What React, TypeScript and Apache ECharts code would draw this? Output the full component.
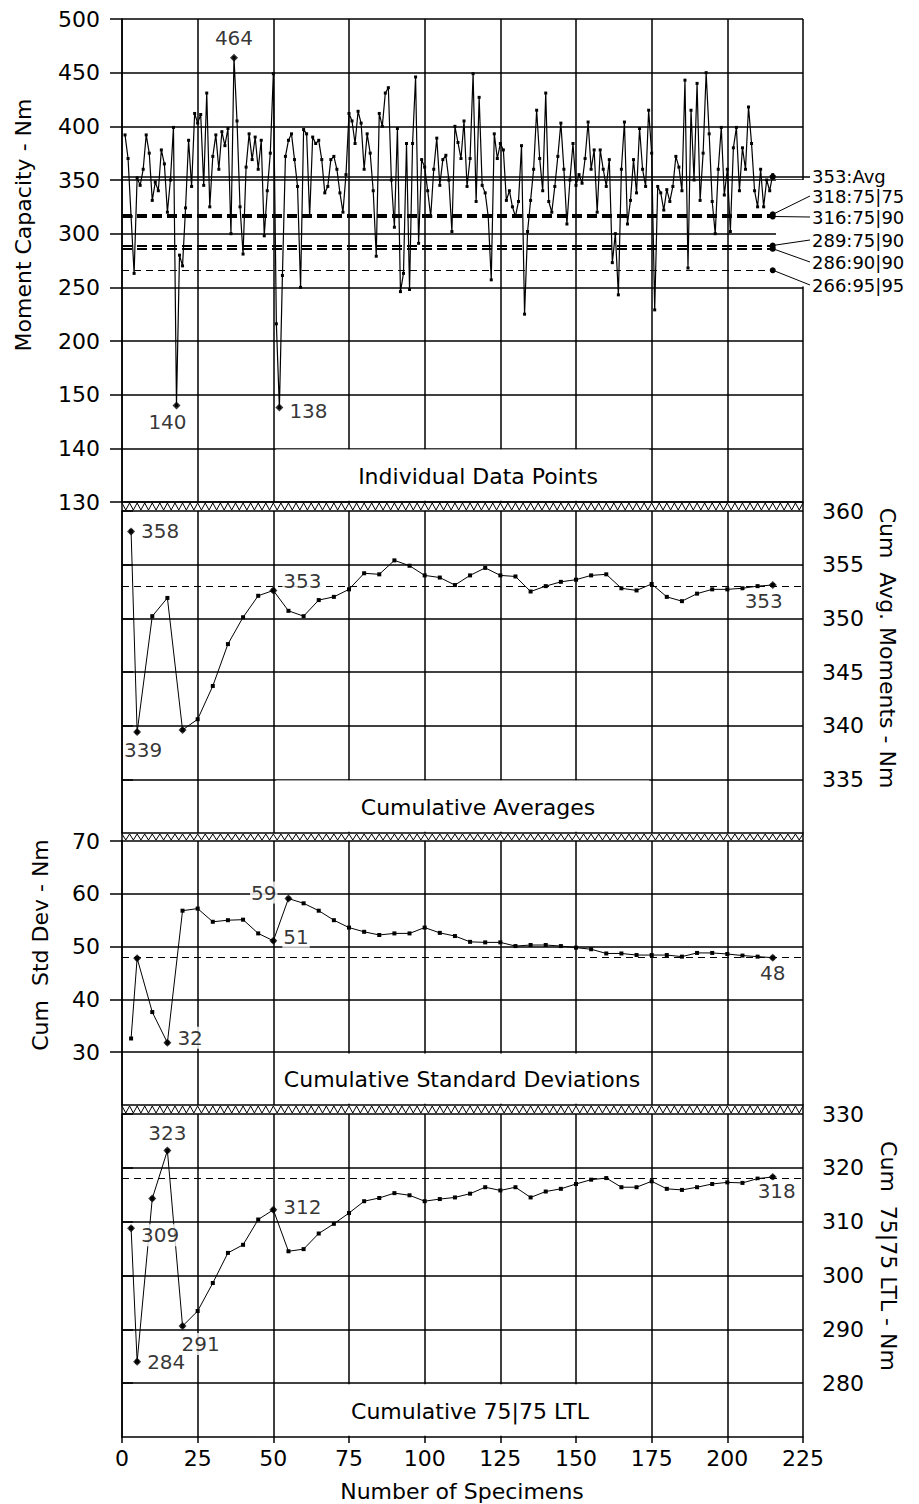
import React, { useEffect, useRef } from 'react';
import * as echarts from 'echarts';

// ---------------- DATA ----------------
// Individual moment capacities (Nm), specimen 1..215
const specimenValues = [
  392, 370, 316, 263, 352, 345, 360, 392, 375, 331, 348, 340, 378, 365, 320, 350, 399, 140, 280, 270,
  324, 387, 344, 412, 403, 411, 345, 431, 325, 372, 392, 360, 395, 382, 398, 300, 464, 405, 325, 281,
  362, 393, 369, 390, 360, 387, 298, 340, 375, 449, 216, 138, 261, 372, 387, 393, 369, 344, 250, 397,
  393, 316, 390, 384, 387, 369, 338, 344, 369, 372, 360, 338, 320, 355, 412, 405, 384, 414, 403, 360,
  393, 375, 340, 279, 412, 400, 431, 436, 350, 306, 398, 246, 263, 384, 248, 384, 446, 291, 369, 362,
  340, 316, 360, 389, 345, 369, 373, 350, 302, 400, 385, 370, 405, 344, 370, 449, 330, 427, 345, 338,
  316, 257, 393, 370, 384, 378, 331, 340, 325, 316, 330, 382, 225, 302, 331, 360, 415, 370, 340, 431,
  330, 320, 344, 372, 403, 360, 309, 350, 384, 345, 355, 347, 370, 404, 360, 378, 320, 378, 360, 344,
  369, 273, 300, 243, 360, 404, 309, 331, 369, 338, 398, 360, 344, 415, 375, 229, 344, 338, 322, 341,
  330, 344, 372, 362, 340, 443, 268, 415, 350, 440, 331, 375, 450, 393, 330, 300, 360, 399, 336, 360,
  302, 380, 399, 340, 380, 360, 418, 384, 340, 325, 360, 325, 350, 340, 355,
];

// Specimen counts at which the cumulative statistics are plotted
const cumN = [3, 5, 10, 15, 20, 25, 30, 35, 40, 45, 50, 55, 60, 65, 70, 75, 80, 85, 90, 95, 100, 105,
  110, 115, 120, 125, 130, 135, 140, 145, 150, 155, 160, 165, 170, 175, 180, 185, 190, 195, 200, 205, 210, 215];

const cumAvg = [358.1, 339.4, 350.2, 351.9, 339.6, 340.6, 343.7, 347.6, 350.1, 352.1, 352.6, 350.7, 350.2,
  351.7, 352.0, 352.7, 354.2, 354.1, 355.4, 354.9, 354.0, 353.8, 353.1, 354.0, 354.7, 354.0, 353.9, 352.5,
  353.0, 353.4, 353.6, 354.0, 354.1, 352.8, 352.6, 353.2, 352.0, 351.6, 352.3, 352.7, 352.7, 352.8, 353.0, 353.1];

const cumStd = [32.6, 47.8, 37.6, 31.8, 56.8, 57.2, 54.7, 55.0, 55.1, 52.5, 51.1, 59.1, 58.2, 56.8, 55.0,
  53.6, 52.8, 52.2, 52.5, 52.5, 53.6, 52.6, 52.0, 50.9, 50.8, 50.8, 50.1, 50.3, 50.3, 50.1, 49.8, 49.5,
  48.7, 48.7, 48.4, 48.4, 48.4, 48.1, 48.8, 48.8, 48.6, 48.3, 48.1, 47.9];

const cumLtl = [308.8, 284.0, 314.3, 323.2, 290.6, 293.4, 298.6, 304.2, 305.7, 310.4, 312.2, 304.5, 304.9,
  307.8, 309.6, 311.6, 313.8, 314.4, 315.3, 314.9, 313.8, 314.2, 314.5, 315.2, 316.4, 315.8, 316.4, 314.5,
  315.6, 316.1, 317.0, 317.8, 318.1, 316.4, 316.4, 317.5, 316.1, 315.9, 316.4, 317.0, 317.3, 317.2, 318.0, 318.3];

// Reference levels of the individual-data panel
const refValues = [353, 318, 316, 289, 286, 266];
const refTags = ['Avg', '75|75', '75|90', '75|90', '90|90', '95|95'];
const finalAvg = 353;
const finalStd = 48;
const finalLtl = 318;

// Tick labels
const indivTickLabels = ['130', '140', '150', '200', '250', '300', '350', '400', '450', '500'];
const avgTicks = [335, 340, 345, 350, 355, 360];
const stdTicks = [30, 40, 50, 60, 70];
const ltlTicks = [280, 290, 300, 310, 320, 330];
const xTicks = [0, 25, 50, 75, 100, 125, 150, 175, 200, 225];

// Highlighted (labelled) specimen counts
const hlIndiv = [18, 37, 52];
const hlAvg = [3, 5, 20, 50, 215];
const hlStd = [5, 15, 50, 55, 215];
const hlLtl = [3, 5, 10, 15, 20, 50, 215];

const captions = ['Individual Data Points', 'Cumulative Averages', 'Cumulative Standard Deviations', 'Cumulative 75|75 LTL'];

// ---------------- LAYOUT / STYLE ----------------
const W = 919;
const H = 1504;
const L = 122;
const R = 803;
const panels = [
  { top: 19, bottom: 502 },
  { top: 511, bottom: 833 },
  { top: 841, bottom: 1105 },
  { top: 1114, bottom: 1437 },
];
const rowsPerPanel = [9, 6, 5, 6];
const captionX = [478, 478, 462, 470];
const FONT = 'DejaVu Sans';
const BLACK = '#000';
const GRID_LW = 1.5;

// label placement per highlighted point (style only)
const labelPlace: Record<string, any> = {
  'p0-18': { show: true, position: 'bottom', offset: [-9, -3] },
  'p0-37': { show: true, position: 'top', distance: 5 },
  'p0-52': { show: true, position: 'right', offset: [0, 3] },
  'p1-3': { show: true, position: 'right' },
  'p1-5': { show: true, position: 'bottom', offset: [6, -2] },
  'p1-20': { show: false },
  'p1-50': { show: true, position: 'right', offset: [0, -9] },
  'p1-215': { show: true, position: 'bottom', offset: [-9, -4] },
  'p2-5': { show: false },
  'p2-15': { show: true, position: 'right', offset: [0, -5] },
  'p2-50': { show: true, position: 'right', offset: [0, -4] },
  'p2-55': { show: true, position: 'left', offset: [-2, -6] },
  'p2-215': { show: true, position: 'bottom', offset: [0, -5] },
  'p3-3': { show: true, position: 'right', offset: [0, 7] },
  'p3-5': { show: true, position: 'right' },
  'p3-10': { show: false },
  'p3-15': { show: true, position: 'top', offset: [0, 2] },
  'p3-20': { show: true, position: 'bottom', offset: [18, -2] },
  'p3-50': { show: true, position: 'right', offset: [0, -3] },
  'p3-215': { show: true, position: 'bottom', offset: [4, -6] },
};

const rightLabelY = [176, 196, 217, 240, 262, 285];

function buildOption() {
  const lineStyle = { color: BLACK, width: GRID_LW };
  const font = { fontFamily: FONT, fontSize: 22, color: BLACK };

  const grid = panels.map((p) => ({ left: L, width: R - L, top: p.top, height: p.bottom - p.top }));

  const xAxis = panels.map((_, i) => ({
    type: 'value',
    gridIndex: i,
    min: xTicks[0],
    max: xTicks[xTicks.length - 1],
    interval: xTicks[1] - xTicks[0],
    axisLine: { show: true, lineStyle },
    axisTick: { show: i === 3, length: 6, lineStyle },
    axisLabel: { show: i === 3, margin: 10, ...font },
    splitLine: { show: true, lineStyle },
  }));

  const yAxis = [
    {
      type: 'value', gridIndex: 0, position: 'left', min: 50, max: 500, interval: 50,
      axisLine: { show: true, lineStyle },
      axisTick: { show: true, length: 12, lineStyle },
      axisLabel: { margin: 22, ...font, formatter: (v: number) => indivTickLabels[Math.round((v - 50) / 50)] },
      splitLine: { show: true, lineStyle },
    },
    {
      type: 'value', gridIndex: 1, position: 'right', min: 330, max: 360, interval: 5,
      axisLine: { show: true, lineStyle },
      axisTick: { show: true, length: 11, lineStyle, customValues: avgTicks },
      axisLabel: { margin: 19, ...font, customValues: avgTicks },
      splitLine: { show: true, lineStyle },
    },
    {
      type: 'value', gridIndex: 2, position: 'left', min: 20, max: 70, interval: 10,
      axisLine: { show: true, lineStyle },
      axisTick: { show: true, length: 12, lineStyle, customValues: stdTicks },
      axisLabel: { margin: 22, ...font, customValues: stdTicks },
      splitLine: { show: true, lineStyle },
    },
    {
      type: 'value', gridIndex: 3, position: 'right', min: 270, max: 330, interval: 10,
      axisLine: { show: true, lineStyle },
      axisTick: { show: true, length: 11, lineStyle, customValues: ltlTicks },
      axisLabel: { margin: 19, ...font, customValues: ltlTicks },
      splitLine: { show: true, lineStyle },
    },
  ];

  const lastSpecimen = specimenValues.length;

  // reference lines + leaders for panel 1
  const refStyles = refValues.map((_, i) => {
    if (i === 0) return { color: BLACK, width: 1.5, type: 'solid' };
    if (i === refValues.length - 1) return { color: BLACK, width: 1.2, type: [7, 5] };
    return { color: BLACK, width: 1.8, type: [10, 5] };
  });
  const indivMarkData: any[] = [];
  refValues.forEach((v, i) => {
    indivMarkData.push([
      { coord: [0, v], lineStyle: refStyles[i] },
      { coord: [lastSpecimen, v], symbol: 'circle', symbolSize: 6 },
    ]);
    indivMarkData.push([
      { coord: [lastSpecimen, v], lineStyle: { color: BLACK, width: i === 0 ? 1.5 : 1, type: 'solid' } },
      { x: 810, y: rightLabelY[i] + (i === 0 ? 1 : 0) },
    ]);
  });

  const cumLine = (data: number[], idx: number, ref: number) => ({
    type: 'line',
    xAxisIndex: idx,
    yAxisIndex: idx,
    data: cumN.map((n, k) => [n, data[k]]),
    symbol: 'rect',
    symbolSize: 4,
    showSymbol: true,
    lineStyle: { color: BLACK, width: 1 },
    itemStyle: { color: BLACK },
    clip: false,
    z: 3,
    markLine: {
      silent: true,
      symbol: ['none', 'none'],
      label: { show: false },
      lineStyle: { color: BLACK, width: 1.2, type: [7, 5] },
      data: [[{ coord: [xTicks[0], ref] }, { coord: [xTicks[xTicks.length - 1], ref] }]],
    },
  });

  const highlight = (ns: number[], xs: number[], ys: number[], idx: number) => ({
    type: 'scatter',
    xAxisIndex: idx,
    yAxisIndex: idx,
    symbol: 'diamond',
    symbolSize: 8,
    itemStyle: { color: BLACK },
    z: 6,
    clip: false,
    data: ns.map((n) => {
      const k = xs.indexOf(n);
      return {
        value: [n, ys[k]],
        label: labelPlace[`p${idx}-${n}`] || { show: true },
      };
    }),
    label: {
      show: true,
      fontFamily: FONT,
      fontSize: 20,
      color: BLACK,
      backgroundColor: '#fff',
      padding: [1, 1],
      formatter: (p: any) => String(Math.round(p.value[1])),
    },
  });

  const specimenIdx = specimenValues.map((_, i) => i + 1);

  const series: any[] = [
    {
      type: 'line',
      xAxisIndex: 0,
      yAxisIndex: 0,
      data: specimenValues.map((v, i) => [i + 1, v]),
      symbol: 'rect',
      symbolSize: 3,
      showSymbol: true,
      lineStyle: { color: BLACK, width: 1.2 },
      itemStyle: { color: BLACK },
      clip: false,
      z: 3,
      markLine: {
        silent: true,
        symbol: ['none', 'none'],
        label: { show: false },
        data: indivMarkData,
      },
    },
    highlight(hlIndiv, specimenIdx, specimenValues, 0),
    cumLine(cumAvg, 1, finalAvg),
    highlight(hlAvg, cumN, cumAvg, 1),
    cumLine(cumStd, 2, finalStd),
    highlight(hlStd, cumN, cumStd, 2),
    cumLine(cumLtl, 3, finalLtl),
    highlight(hlLtl, cumN, cumLtl, 3),
  ];

  // ---- graphics: caption boxes, bands, titles, right labels ----
  const xPx = (v: number) => L + ((v - xTicks[0]) / (xTicks[xTicks.length - 1] - xTicks[0])) * (R - L);
  const graphic: any[] = [];

  panels.forEach((p, i) => {
    const rowH = (p.bottom - p.top) / rowsPerPanel[i];
    const rowTop = p.bottom - rowH;
    graphic.push({
      type: 'rect', z: 1, silent: true,
      shape: { x: xPx(50) + 2.5, y: rowTop + 1.2, width: xPx(175) - xPx(50) - 5, height: rowH - 2.4 },
      style: { fill: '#fff' },
    });
    graphic.push({
      type: 'text', z: 100, silent: true, x: captionX[i], y: (rowTop + p.bottom) / 2 + 1,
      style: { text: captions[i], font: `22px "${FONT}"`, fill: BLACK, align: 'center', verticalAlign: 'middle' },
    });
  });

  // hatched bands between panels
  for (let i = 0; i < panels.length - 1; i++) {
    const y0 = panels[i].bottom + 1;
    const y1 = panels[i + 1].top - 1;
    const steps = 180;
    const pts: number[][] = [];
    for (let k = 0; k <= steps; k++) pts.push([L + (k * (R - L)) / steps, k % 2 ? y1 : y0]);
    graphic.push({ type: 'polyline', z: 2, silent: true, shape: { points: pts }, style: { stroke: BLACK, lineWidth: 1, fill: null } });
    graphic.push({ type: 'line', z: 2, silent: true, shape: { x1: L, y1: panels[i].bottom, x2: L, y2: panels[i + 1].top }, style: { stroke: BLACK, lineWidth: GRID_LW } });
    graphic.push({ type: 'line', z: 2, silent: true, shape: { x1: R, y1: panels[i].bottom, x2: R, y2: panels[i + 1].top }, style: { stroke: BLACK, lineWidth: GRID_LW } });
  }

  // white area behind leader lines at right of panel 1
  graphic.push({ type: 'rect', z: 1, silent: true, shape: { x: 776, y: 180, width: 30, height: 106.5 }, style: { fill: '#fff' } });

  refValues.forEach((v, i) => {
    graphic.push({
      type: 'text', z: 100, silent: true, x: 812, y: rightLabelY[i],
      style: { text: `${v}:${refTags[i]}`, font: `18px "${FONT}"`, fill: BLACK, align: 'left', verticalAlign: 'middle' },
    });
  });

  const title = (text: string, x: number, y: number, rot: number) => ({
    type: 'text', z: 100, silent: true, x, y, rotation: rot,
    style: { text, font: `22px "${FONT}"`, fill: BLACK, align: 'center', verticalAlign: 'middle' },
  });
  graphic.push(title('Moment Capacity - Nm', 23, 225, Math.PI / 2));
  graphic.push(title('Cum  Avg. Moments - Nm', 887, 648, -Math.PI / 2));
  graphic.push(title('Cum  Std Dev - Nm', 40, 945, Math.PI / 2));
  graphic.push(title('Cum  75|75 LTL - Nm', 888, 1256, -Math.PI / 2));
  graphic.push(title('Number of Specimens', 462, 1491, 0));

  return {
    animation: false,
    backgroundColor: '#fff',
    textStyle: { fontFamily: FONT },
    grid,
    xAxis,
    yAxis,
    series,
    graphic,
  };
}

export default function App() {
  const ref = useRef<HTMLDivElement>(null);
  useEffect(() => {
    if (!ref.current) return;
    const chart = echarts.init(ref.current, undefined, { renderer: 'svg', width: W, height: H });
    chart.setOption(buildOption() as any);
    return () => chart.dispose();
  }, []);
  return (
    <div
      ref={ref}
      style={{ position: 'absolute', left: 0, top: 0, width: W, height: H, background: '#fff' }}
    />
  );
}
